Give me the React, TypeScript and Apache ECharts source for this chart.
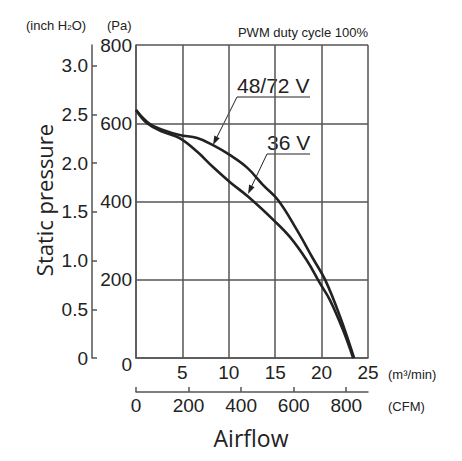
import React, { useEffect, useRef } from "react";
import * as echarts from "echarts";

// Airflow (m³/min) vs static pressure (Pa)
const Q_48_72 = [0, 1.5, 2.9, 4.7, 6.6, 8.3, 10.1, 12.0, 13.7, 15.3, 17.35, 19.1, 20.4, 22.0, 23.5];
const P_48_72 = [634, 598, 583, 570, 562, 544, 519, 486, 442, 404, 327, 253, 199, 105, 0];
const Q_36 = [0, 1.2, 2.9, 4.7, 6.6, 8.3, 10.1, 12.1, 14.8, 16.6, 18.4, 19.8, 20.9, 22.3, 23.4];
const P_36 = [634, 600, 578, 562, 527, 488, 450, 412, 353, 309, 250, 192, 148, 72, 0];

const SERIES_NAMES = ["48/72 V", "36 V"];
const PA_TICKS = [0, 200, 400, 600, 800];
const M3_TICKS = [0, 5, 10, 15, 20, 25];
const CFM_TICKS = [0, 200, 400, 600, 800];
const INCH_TICKS = [0, 0.5, 1.0, 1.5, 2.0, 2.5, 3.0];

const PA_PER_INCH = 249.089;
const CFM_PER_M3 = 35.3147;

const NUM_FONT = "'Liberation Sans', Arial, sans-serif";
const TXT_FONT = "'Liberation Sans', Arial, sans-serif";
const INK = "#222";
const GRID = "#555";

export default function App() {
  const ref = useRef<HTMLDivElement>(null);
  useEffect(() => {
    document.body.style.margin = "0";
    const chart = echarts.init(ref.current!, null, { renderer: "svg" });
    const paMax = PA_TICKS[PA_TICKS.length - 1];
    const qMax = M3_TICKS[M3_TICKS.length - 1];
    const arrow = (x1: number, y1: number, x2: number, y2: number) => {
      const dx = x2 - x1, dy = y2 - y1;
      const L = Math.hypot(dx, dy);
      const ux = dx / L, uy = dy / L;
      const bx = x2 - ux * 9, by = y2 - uy * 9;
      const px = -uy * 3, py = ux * 3;
      return [
        { type: "line", shape: { x1, y1, x2: bx, y2: by }, style: { stroke: INK, lineWidth: 1 } },
        { type: "polygon", shape: { points: [[x2, y2], [bx + px, by + py], [bx - px, by - py]] }, style: { fill: INK } },
      ];
    };
    const numLabel = { fontSize: 19, color: INK, fontFamily: NUM_FONT };
    chart.setOption({
      animation: false,
      grid: { left: 136, top: 45, width: 232, height: 313, containLabel: false },
      xAxis: [
        {
          type: "value", min: 0, max: qMax, interval: 5, position: "bottom",
          axisLine: { show: true, onZero: false, lineStyle: { color: GRID, width: 1.5 } },
          axisTick: { show: false },
          splitLine: { show: true, lineStyle: { color: GRID, width: 1.5 } },
          axisLabel: { ...numLabel, margin: 5, formatter: (v: number) => (v === 0 ? "" : String(v)) },
        },
        {
          type: "value", min: 0, max: qMax * CFM_PER_M3, position: "bottom", offset: 34,
          axisLine: { show: true, onZero: false, lineStyle: { color: GRID, width: 1.5 } },
          axisTick: { show: true, inside: true, length: 5, customValues: CFM_TICKS, lineStyle: { color: GRID, width: 1.5 } },
          splitLine: { show: false },
          axisLabel: { ...numLabel, margin: 4, customValues: CFM_TICKS },
        },
      ],
      yAxis: [
        {
          type: "value", min: 0, max: paMax, interval: 200, position: "left",
          axisLine: { show: true, onZero: false, lineStyle: { color: GRID, width: 1.5 } },
          axisTick: { show: false },
          splitLine: { show: true, lineStyle: { color: GRID, width: 1.5 } },
          axisLabel: {
            ...numLabel, margin: 4,
            formatter: (v: number) => (v === 0 ? "{z|0}" : String(v)),
            rich: { z: { ...numLabel, padding: [12, 0, 0, 0] } },
          },
        },
        {
          type: "value", min: 0, max: paMax / PA_PER_INCH, position: "left", offset: 44,
          axisLine: { show: true, onZero: false, lineStyle: { color: GRID, width: 1.5 } },
          axisTick: { show: true, inside: true, length: 5, customValues: INCH_TICKS, lineStyle: { color: GRID, width: 1.5 } },
          splitLine: { show: false },
          axisLabel: {
            ...numLabel, margin: 4, customValues: INCH_TICKS,
            formatter: (v: number) => (v === 0 ? "0" : v.toFixed(1)),
          },
        },
      ],
      series: [
        {
          name: SERIES_NAMES[0], type: "line", xAxisIndex: 0, yAxisIndex: 0, smooth: 0.4, symbol: "none",
          lineStyle: { color: INK, width: 2.6 },
          data: Q_48_72.map((q, i) => [q, P_48_72[i]]),
        },
        {
          name: SERIES_NAMES[1], type: "line", xAxisIndex: 0, yAxisIndex: 0, smooth: 0.4, symbol: "none",
          lineStyle: { color: INK, width: 2.6 },
          data: Q_36.map((q, i) => [q, P_36[i]]),
        },
      ],
      graphic: [
        {
          type: "text", x: 26, y: 25,
          style: {
            text: "(inch H{s|2}O)", fill: INK, fontSize: 13, fontFamily: TXT_FONT, verticalAlign: "middle",
            rich: { s: { fontSize: 8, fontFamily: TXT_FONT, fill: INK, padding: [4, 0, 0, 0] } },
          },
        },
        { type: "text", x: 107, y: 25, style: { text: "(Pa)", fill: INK, fontSize: 13, fontFamily: TXT_FONT, verticalAlign: "middle" } },
        { type: "text", x: 368, y: 32, style: { text: "PWM duty cycle 100%", fill: INK, fontSize: 13, fontFamily: TXT_FONT, align: "right", verticalAlign: "middle" } },
        { type: "text", x: 388, y: 374, style: { text: "(m³/min)", fill: INK, fontSize: 13, fontFamily: TXT_FONT, verticalAlign: "middle" } },
        { type: "text", x: 388, y: 406, style: { text: "(CFM)", fill: INK, fontSize: 13, fontFamily: TXT_FONT, verticalAlign: "middle" } },
        {
          type: "text", x: 44, y: 200, rotation: Math.PI / 2,
          style: { text: "Static pressure", fill: INK, fontSize: 22, fontFamily: "'Open Sans', sans-serif", align: "center", verticalAlign: "middle" },
        },
        {
          type: "text", x: 251, y: 438,
          style: { text: "Airflow", fill: INK, fontSize: 23, fontFamily: "'Open Sans', sans-serif", align: "center", verticalAlign: "middle" },
        },
        { type: "text", x: 237, y: 85, style: { text: SERIES_NAMES[0], fill: INK, fontSize: 21, fontFamily: TXT_FONT, verticalAlign: "middle" } },
        { type: "line", shape: { x1: 237, y1: 97, x2: 310, y2: 97 }, style: { stroke: INK, lineWidth: 1 } },
        ...arrow(237, 97, 213, 145),
        { type: "text", x: 267, y: 142, style: { text: SERIES_NAMES[1], fill: INK, fontSize: 21, fontFamily: TXT_FONT, verticalAlign: "middle" } },
        { type: "line", shape: { x1: 267, y1: 154, x2: 310, y2: 154 }, style: { stroke: INK, lineWidth: 1 } },
        ...arrow(267, 154, 248, 194),
      ],
    });
    return () => chart.dispose();
  }, []);
  return <div ref={ref} style={{ width: 462, height: 461 }} />;
}
